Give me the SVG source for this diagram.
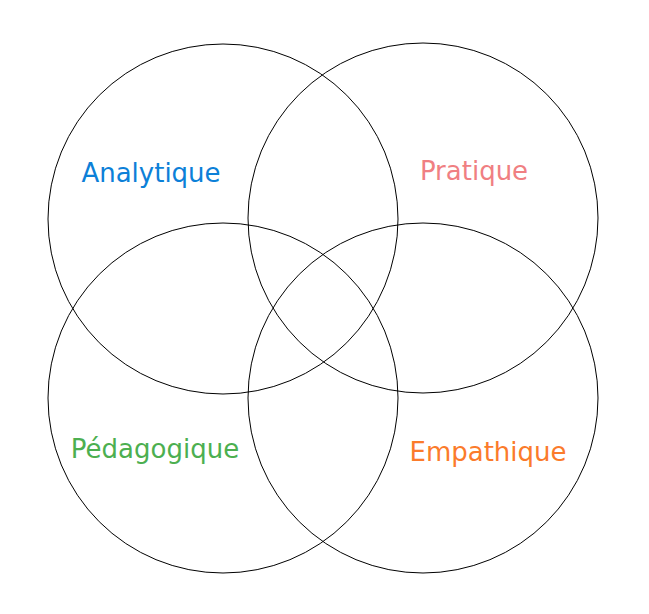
<svg xmlns="http://www.w3.org/2000/svg" width="649" height="614" viewBox="0 0 649 614">
  <style>
    .ring { fill: none; stroke: #000; stroke-width: 1; }
    .label { font-family: "DejaVu Sans", sans-serif; font-size: 26px; text-anchor: middle; }
  </style>
  <rect width="649" height="614" fill="#fff"/>
  <g id="analytique">
    <circle class="ring" cx="223" cy="219" r="175"/>
    <text class="label" x="151" y="182" fill="#0c80d8">Analytique</text>
  </g>
  <g id="pratique">
    <circle class="ring" cx="423" cy="218" r="175"/>
    <text class="label" x="474" y="180" fill="#f07f82">Pratique</text>
  </g>
  <g id="pedagogique">
    <circle class="ring" cx="223" cy="398" r="175"/>
    <text class="label" x="155" y="458" fill="#4caf50">Pédagogique</text>
  </g>
  <g id="empathique">
    <circle class="ring" cx="423" cy="398" r="175"/>
    <text class="label" x="488" y="461" fill="#fb7b2b">Empathique</text>
  </g>
  <g id="connectors"></g>
</svg>
